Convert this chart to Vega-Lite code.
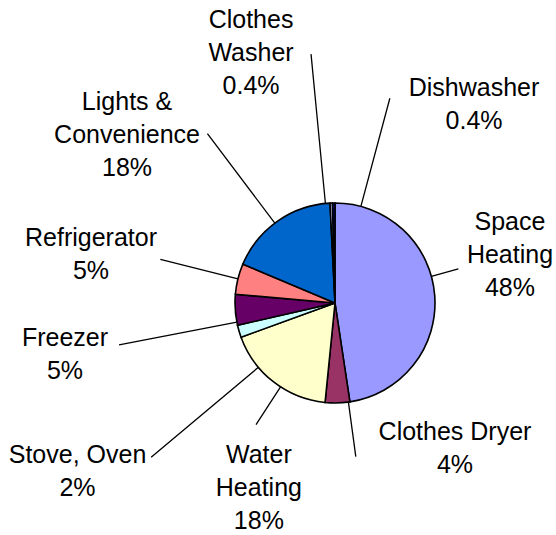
{
  "$schema": "https://vega.github.io/schema/vega-lite/v6.json",
  "width": 442,
  "height": 464,
  "padding": {"left": 114, "top": 71, "right": 0, "bottom": 0},
  "autosize": {"type": "none"},
  "background": "white",
  "config": {"view": {"stroke": null}},
  "data": {
    "values": [
      {"category": "Space Heating", "share": 48, "label": "Space\nHeating\n48%"},
      {"category": "Clothes Dryer", "share": 4, "label": "Clothes Dryer\n4%"},
      {"category": "Water Heating", "share": 18, "label": "Water\nHeating\n18%"},
      {"category": "Stove, Oven", "share": 2, "label": "Stove, Oven\n2%"},
      {"category": "Freezer", "share": 5, "label": "Freezer\n5%"},
      {"category": "Refrigerator", "share": 5, "label": "Refrigerator\n5%"},
      {"category": "Lights & Convenience", "share": 18, "label": "Lights &\nConvenience\n18%"},
      {"category": "Clothes Washer", "share": 0.4, "label": "Clothes\nWasher\n0.4%"},
      {"category": "Dishwasher", "share": 0.4, "label": "Dishwasher\n0.4%"}
    ]
  },
  "transform": [
    {"window": [{"op": "row_number", "as": "ord"}]},
    {"stack": "share", "groupby": [], "sort": [{"field": "ord", "order": "ascending"}], "as": ["s0", "s1"]}
  ],
  "encoding": {
    "theta": {"field": "share", "type": "quantitative", "stack": true},
    "order": {"field": "ord", "type": "quantitative"}
  },
  "layer": [
    {
      "mark": {"type": "arc", "outerRadius": 100, "stroke": "black", "strokeWidth": 1.6},
      "encoding": {
        "color": {
          "field": "category", "type": "nominal", "legend": null,
          "scale": {
            "domain": ["Space Heating", "Clothes Dryer", "Water Heating", "Stove, Oven", "Freezer", "Refrigerator", "Lights & Convenience", "Clothes Washer", "Dishwasher"],
            "range": ["#9999FF", "#993366", "#FFFFCC", "#CCFFFF", "#660066", "#FF8080", "#0066CC", "#CCCCFF", "#000080"]
          }
        }
      }
    },
    {"mark": {"type": "arc", "innerRadius": 100, "outerRadius": 128, "thetaOffset": 1.30027, "theta2Offset": 1.30027, "fillOpacity": 0, "stroke": "black", "strokeWidth": 1.3},
     "encoding": {"theta": {"field": "s0", "type": "quantitative"}, "theta2": {"field": "s0"}, "strokeOpacity": {"condition": {"test": "datum.category === 'Space Heating'", "value": 1}, "value": 0}}},
    {"mark": {"type": "arc", "innerRadius": 100, "outerRadius": 155, "thetaOffset": 0.01498, "theta2Offset": 0.01498, "fillOpacity": 0, "stroke": "black", "strokeWidth": 1.3},
     "encoding": {"theta": {"field": "s0", "type": "quantitative"}, "theta2": {"field": "s0"}, "strokeOpacity": {"condition": {"test": "datum.category === 'Clothes Dryer'", "value": 1}, "value": 0}}},
    {"mark": {"type": "arc", "innerRadius": 100, "outerRadius": 145, "thetaOffset": 0.47623, "theta2Offset": 0.47623, "fillOpacity": 0, "stroke": "black", "strokeWidth": 1.3},
     "encoding": {"theta": {"field": "s0", "type": "quantitative"}, "theta2": {"field": "s0"}, "strokeOpacity": {"condition": {"test": "datum.category === 'Water Heating'", "value": 1}, "value": 0}}},
    {"mark": {"type": "arc", "innerRadius": 100, "outerRadius": 240, "thetaOffset": -0.34906, "theta2Offset": -0.34906, "fillOpacity": 0, "stroke": "black", "strokeWidth": 1.3},
     "encoding": {"theta": {"field": "s0", "type": "quantitative"}, "theta2": {"field": "s0"}, "strokeOpacity": {"condition": {"test": "datum.category === 'Stove, Oven'", "value": 1}, "value": 0}}},
    {"mark": {"type": "arc", "innerRadius": 100, "outerRadius": 220, "thetaOffset": 0.03241, "theta2Offset": 0.03241, "fillOpacity": 0, "stroke": "black", "strokeWidth": 1.3},
     "encoding": {"theta": {"field": "s0", "type": "quantitative"}, "theta2": {"field": "s0"}, "strokeOpacity": {"condition": {"test": "datum.category === 'Freezer'", "value": 1}, "value": 0}}},
    {"mark": {"type": "arc", "innerRadius": 100, "outerRadius": 180, "thetaOffset": 0.15708, "theta2Offset": 0.15708, "fillOpacity": 0, "stroke": "black", "strokeWidth": 1.3},
     "encoding": {"theta": {"field": "s0", "type": "quantitative"}, "theta2": {"field": "s0"}, "strokeOpacity": {"condition": {"test": "datum.category === 'Refrigerator'", "value": 1}, "value": 0}}},
    {"mark": {"type": "arc", "innerRadius": 100, "outerRadius": 212, "thetaOffset": 0.52609, "theta2Offset": 0.52609, "fillOpacity": 0, "stroke": "black", "strokeWidth": 1.3},
     "encoding": {"theta": {"field": "s0", "type": "quantitative"}, "theta2": {"field": "s0"}, "strokeOpacity": {"condition": {"test": "datum.category === 'Lights & Convenience'", "value": 1}, "value": 0}}},
    {"mark": {"type": "arc", "innerRadius": 100, "outerRadius": 250, "thetaOffset": -0.04612, "theta2Offset": -0.04612, "fillOpacity": 0, "stroke": "black", "strokeWidth": 1.3},
     "encoding": {"theta": {"field": "s0", "type": "quantitative"}, "theta2": {"field": "s0"}, "strokeOpacity": {"condition": {"test": "datum.category === 'Clothes Washer'", "value": 1}, "value": 0}}},
    {"mark": {"type": "arc", "innerRadius": 100, "outerRadius": 212, "thetaOffset": 0.28672, "theta2Offset": 0.28672, "fillOpacity": 0, "stroke": "black", "strokeWidth": 1.3},
     "encoding": {"theta": {"field": "s0", "type": "quantitative"}, "theta2": {"field": "s0"}, "strokeOpacity": {"condition": {"test": "datum.category === 'Dishwasher'", "value": 1}, "value": 0}}},
    {"mark": {"type": "text", "radius": 192.8, "thetaOffset": -0.3587, "font": "Liberation Sans", "fontSize": 25, "lineBreak": "\n", "lineHeight": 33, "align": "center", "baseline": "middle", "color": "black"},
     "encoding": {"text": {"condition": {"test": "datum.category === 'Space Heating'", "field": "label"}, "value": ""}}},
    {"mark": {"type": "text", "radius": 176.2, "thetaOffset": -0.7243, "font": "Liberation Sans", "fontSize": 25, "lineBreak": "\n", "lineHeight": 33, "align": "center", "baseline": "middle", "color": "black"},
     "encoding": {"text": {"condition": {"test": "datum.category === 'Clothes Dryer'", "field": "label"}, "value": ""}}},
    {"mark": {"type": "text", "radius": 170.2, "thetaOffset": -0.1971, "font": "Liberation Sans", "fontSize": 25, "lineBreak": "\n", "lineHeight": 33, "align": "center", "baseline": "middle", "color": "black"},
     "encoding": {"text": {"condition": {"test": "datum.category === 'Water Heating'", "field": "label"}, "value": ""}}},
    {"mark": {"type": "text", "radius": 299.0, "thetaOffset": -0.2465, "font": "Liberation Sans", "fontSize": 25, "lineBreak": "\n", "lineHeight": 33, "align": "center", "baseline": "middle", "color": "black"},
     "encoding": {"text": {"condition": {"test": "datum.category === 'Stove, Oven'", "field": "label"}, "value": ""}}},
    {"mark": {"type": "text", "radius": 272.3, "thetaOffset": -0.0604, "font": "Liberation Sans", "fontSize": 25, "lineBreak": "\n", "lineHeight": 33, "align": "center", "baseline": "middle", "color": "black"},
     "encoding": {"text": {"condition": {"test": "datum.category === 'Freezer'", "field": "label"}, "value": ""}}},
    {"mark": {"type": "text", "radius": 252.5, "thetaOffset": 0.0173, "font": "Liberation Sans", "fontSize": 25, "lineBreak": "\n", "lineHeight": 33, "align": "center", "baseline": "middle", "color": "black"},
     "encoding": {"text": {"condition": {"test": "datum.category === 'Refrigerator'", "field": "label"}, "value": ""}}},
    {"mark": {"type": "text", "radius": 289.2, "thetaOffset": -0.1916, "font": "Liberation Sans", "fontSize": 25, "lineBreak": "\n", "lineHeight": 33, "align": "center", "baseline": "middle", "color": "black"},
     "encoding": {"text": {"condition": {"test": "datum.category === 'Lights & Convenience'", "field": "label"}, "value": ""}}},
    {"mark": {"type": "text", "radius": 295.2, "thetaOffset": -0.2511, "font": "Liberation Sans", "fontSize": 25, "lineBreak": "\n", "lineHeight": 33, "align": "center", "baseline": "middle", "color": "black"},
     "encoding": {"text": {"condition": {"test": "datum.category === 'Clothes Washer'", "field": "label"}, "value": ""}}},
    {"mark": {"type": "text", "radius": 256.0, "thetaOffset": 0.5865, "font": "Liberation Sans", "fontSize": 25, "lineBreak": "\n", "lineHeight": 33, "align": "center", "baseline": "middle", "color": "black"},
     "encoding": {"text": {"condition": {"test": "datum.category === 'Dishwasher'", "field": "label"}, "value": ""}}}
  ]
}
